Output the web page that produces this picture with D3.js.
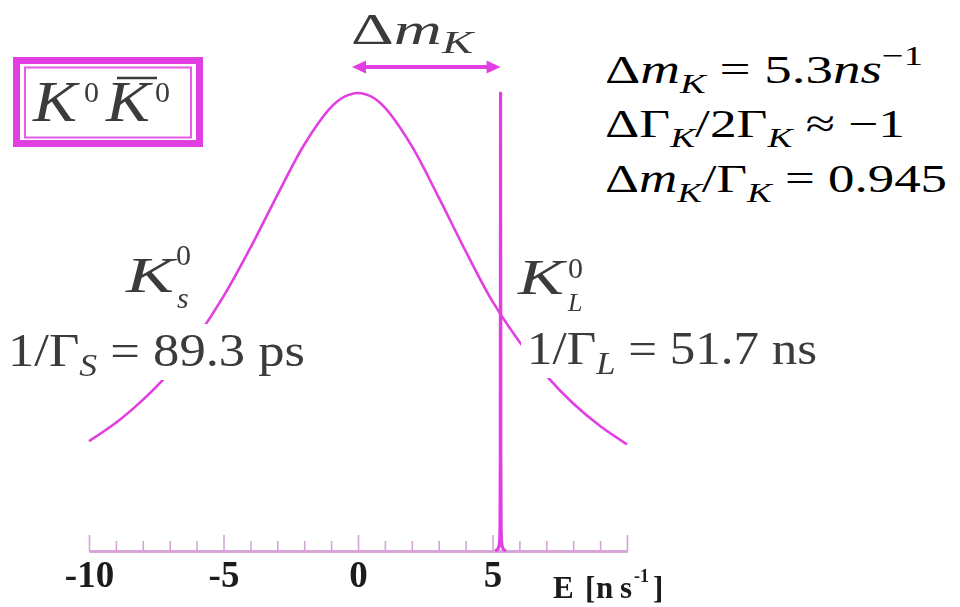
<!DOCTYPE html>
<html>
<head>
<meta charset="utf-8">
<script src="https://cdn.jsdelivr.net/npm/d3@7"></script>
<style>
  html, body { margin: 0; padding: 0; background: #fff; }
  svg { display: block; }
</style>
</head>
<body>
<svg id="chart" width="960" height="607"></svg>
<script>
// Energy axis (ns^-1)
const majorTicks = [-10, -5, 0, 5, 10];
const tickLabels = ["-10", "-5", "0", "5", ""];
const minorTicks = [-9, -8, -7, -6, -4, -3, -2, -1, 1, 2, 3, 4, 6, 7, 8, 9];

// K_S line shape: broad resonance centred at 0
const ksEnergy    = [-10, -9, -8, -7, -6, -5, -4, -3, -2, -1, -0.5, 0, 0.5, 1, 2, 3, 4, 5, 6, 7, 8, 9, 10];
const ksIntensity = [0.24, 0.28, 0.33, 0.39, 0.466, 0.556, 0.662, 0.777, 0.887, 0.969, 0.992, 1.0, 0.992, 0.968, 0.884, 0.772, 0.655, 0.545, 0.457, 0.383, 0.322, 0.273, 0.233];

// K_L line shape: very narrow peak at Δm_K
const klEnergy    = [5.1, 5.2, 5.25, 5.27, 5.28, 5.29, 5.3, 5.31, 5.32, 5.33, 5.35, 5.4, 5.5];
const klIntensity = [0, 0.004, 0.012, 0.025, 0.05, 0.2, 1.0, 0.2, 0.05, 0.025, 0.012, 0.004, 0];

const deltaM = 5.3;

const MAG = "#e23fe2";
const GRAY = "#3a3a3a";

const svg = d3.select("#chart");
svg.append("rect").attr("width", 960).attr("height", 607).attr("fill", "#fff");

const x = d3.scaleLinear().domain([-10, 10]).range([89, 627]);
const y = d3.scaleLinear().domain([0, 1]).range([551, 93]);

const defs = svg.append("defs");
defs.append("filter").attr("id", "soft")
  .append("feGaussianBlur").attr("stdDeviation", 0.45);

// ---- axis ----
const axisG = svg.append("g").attr("transform", `translate(0,${y(0)})`);
const minorAxis = d3.axisBottom(x).tickValues(minorTicks).tickSizeInner(-10).tickSizeOuter(0).tickFormat("");
const majorAxis = d3.axisBottom(x).tickValues(majorTicks).tickSizeInner(-16).tickSizeOuter(0)
  .tickFormat((d, i) => tickLabels[i]);
axisG.append("g").call(minorAxis);
axisG.append("g").attr("class", "major").call(majorAxis);
axisG.selectAll("path.domain").attr("stroke", "#d6a2da").attr("stroke-width", 2.5);
axisG.selectAll(".tick line").attr("stroke", "#d6a2da").attr("stroke-width", 1.6);
axisG.selectAll(".major .tick text")
  .attr("y", 36).attr("dy", 0)
  .attr("fill", "#1a1a1a")
  .style("font-family", "'Liberation Serif', serif")
  .style("font-weight", "bold")
  .style("font-size", "37px")
  .attr("filter", "url(#soft)");

// axis title
const titleG = svg.append("g").attr("filter", "url(#soft)")
  .attr("font-family", "'Liberation Serif', serif").attr("font-weight", "bold").attr("fill", "#1a1a1a");
titleG.append("text").attr("x", 553).attr("y", 598).attr("font-size", 31).text("E");
titleG.append("text").attr("x", 585).attr("y", 598).attr("font-size", 31).text("[");
titleG.append("text").attr("x", 596).attr("y", 598).attr("font-size", 31)
  .attr("textLength", 36).attr("lengthAdjust", "spacing").text("ns");
titleG.append("text").attr("x", 634).attr("y", 582).attr("font-size", 18).text("-1");
titleG.append("text").attr("x", 653).attr("y", 598).attr("font-size", 31).text("]");

// ---- curves ----
svg.append("path")
  .datum(d3.zip(ksEnergy, ksIntensity))
  .attr("d", d3.line().x(d => x(d[0])).y(d => y(d[1])).curve(d3.curveCatmullRom.alpha(0.5)))
  .attr("fill", "none").attr("stroke", MAG).attr("stroke-width", 2.6);

svg.append("path")
  .datum(d3.zip(klEnergy, klIntensity))
  .attr("d", d3.line().x(d => x(d[0])).y(d => y(d[1])).curve(d3.curveLinear))
  .attr("fill", "none").attr("stroke", MAG).attr("stroke-width", 3.2)
  .attr("stroke-linejoin", "round");

// ---- math text helper ----
// parts: {t, it (italic), sc (size factor), sh (baseline shift in em, negative = up)}
function mathText(sel, px, py, size, parts, opts = {}) {
  const t = sel.append("text")
    .attr("x", px).attr("y", py)
    .attr("font-family", opts.family || "'Liberation Serif', serif")
    .attr("font-size", size)
    .attr("fill", opts.fill || GRAY);
  if (opts.width) t.attr("textLength", opts.width).attr("lengthAdjust", "spacingAndGlyphs");
  if (opts.filter) t.attr("filter", opts.filter);
  let prev = 0;
  parts.forEach(p => {
    const sh = p.sh || 0;
    const ts = t.append("tspan").text(p.t)
      .attr("font-size", size * (p.sc || 1))
      .attr("font-style", p.it ? "italic" : "normal");
    if (sh !== prev) ts.attr("dy", (sh - prev) * size);
    if (p.dx) ts.attr("dx", p.dx);
    prev = sh;
  });
  return t;
}

// ---- label backgrounds (cover curve behind lifetime labels) ----
svg.append("rect").attr("x", 0).attr("y", 324).attr("width", 310).attr("height", 56).attr("fill", "#fff");
svg.append("rect").attr("x", 521).attr("y", 331).attr("width", 305).attr("height", 47).attr("fill", "#fff");

// ---- K0 K0bar box ----
svg.append("rect").attr("x", 16.5).attr("y", 60.5).attr("width", 183).attr("height", 83)
  .attr("fill", "#fff").attr("stroke", MAG).attr("stroke-width", 7);
svg.append("rect").attr("x", 25).attr("y", 67.5).attr("width", 166).attr("height", 70)
  .attr("fill", "none").attr("stroke", MAG).attr("stroke-width", 2).attr("opacity", 0.85);
const boxG = svg.append("g").attr("filter", "url(#soft)");
mathText(boxG, 33, 121, 56, [{t: "K", it: true}], {width: 44});
mathText(boxG, 84, 102, 30, [{t: "0"}]);
mathText(boxG, 106, 121, 56, [{t: "K", it: true}], {width: 44});
mathText(boxG, 155, 102, 30, [{t: "0"}]);
boxG.append("line").attr("x1", 117).attr("x2", 157).attr("y1", 78).attr("y2", 78)
  .attr("stroke", GRAY).attr("stroke-width", 2.4);

// ---- Δm_K arrow ----
const ay = 67;
const ax0 = x(0) - 6, ax1 = x(deltaM);
svg.append("line").attr("x1", ax0 + 10).attr("x2", ax1 - 10).attr("y1", ay).attr("y2", ay)
  .attr("stroke", MAG).attr("stroke-width", 4);
svg.append("path").attr("d", `M${ax0},${ay} L${ax0 + 14},${ay - 6.5} L${ax0 + 14},${ay + 6.5} Z`).attr("fill", MAG);
svg.append("path").attr("d", `M${ax1},${ay} L${ax1 - 14},${ay - 6.5} L${ax1 - 14},${ay + 6.5} Z`).attr("fill", MAG);
mathText(svg, 351, 44, 44, [
  {t: "Δ"}, {t: "m", it: true}, {t: "K", it: true, sc: 0.7, sh: 0.2}
], {width: 122, filter: "url(#soft)"});

// ---- K_S labels ----
const lblG = svg.append("g").attr("filter", "url(#soft)");
mathText(lblG, 126, 292, 50, [{t: "K", it: true}], {width: 48});
mathText(lblG, 176, 265, 30, [{t: "0"}]);
mathText(lblG, 177, 308, 30, [{t: "s", it: true}]);
mathText(lblG, 8, 366, 46, [
  {t: "1/Γ"}, {t: "S", it: true, sc: 0.68, sh: 0.22}, {t: " = 89.3 ps", sh: 0}
], {width: 297});

// ---- K_L labels ----
mathText(lblG, 518, 294, 50, [{t: "K", it: true}], {width: 46});
mathText(lblG, 568, 278, 30, [{t: "0"}]);
mathText(lblG, 568, 311, 26, [{t: "L", it: true}]);
mathText(lblG, 527, 364, 46, [
  {t: "1/Γ"}, {t: "L", it: true, sc: 0.68, sh: 0.22}, {t: " = 51.7 ns", sh: 0}
], {width: 290});

// ---- parameter summary ----
const eqFont = "'Liberation Serif', serif";
mathText(svg, 605, 83, 40, [
  {t: "Δ"}, {t: "m", it: true}, {t: "K", it: true, sc: 0.7, sh: 0.25},
  {t: " = 5.3", sh: 0}, {t: "ns", it: true}, {t: "−1", sc: 0.7, sh: -0.45}
], {family: eqFont, fill: "#000", width: 318});
mathText(svg, 605, 137, 40, [
  {t: "ΔΓ"}, {t: "K", it: true, sc: 0.7, sh: 0.25},
  {t: "/2Γ", sh: 0}, {t: "K", it: true, sc: 0.7, sh: 0.25},
  {t: " ≈ −1", sh: 0}
], {family: eqFont, fill: "#000", width: 300});
mathText(svg, 605, 192, 40, [
  {t: "Δ"}, {t: "m", it: true}, {t: "K", it: true, sc: 0.7, sh: 0.25},
  {t: "/Γ", sh: 0}, {t: "K", it: true, sc: 0.7, sh: 0.25},
  {t: " = 0.945", sh: 0}
], {family: eqFont, fill: "#000", width: 342});
</script>
</body>
</html>
